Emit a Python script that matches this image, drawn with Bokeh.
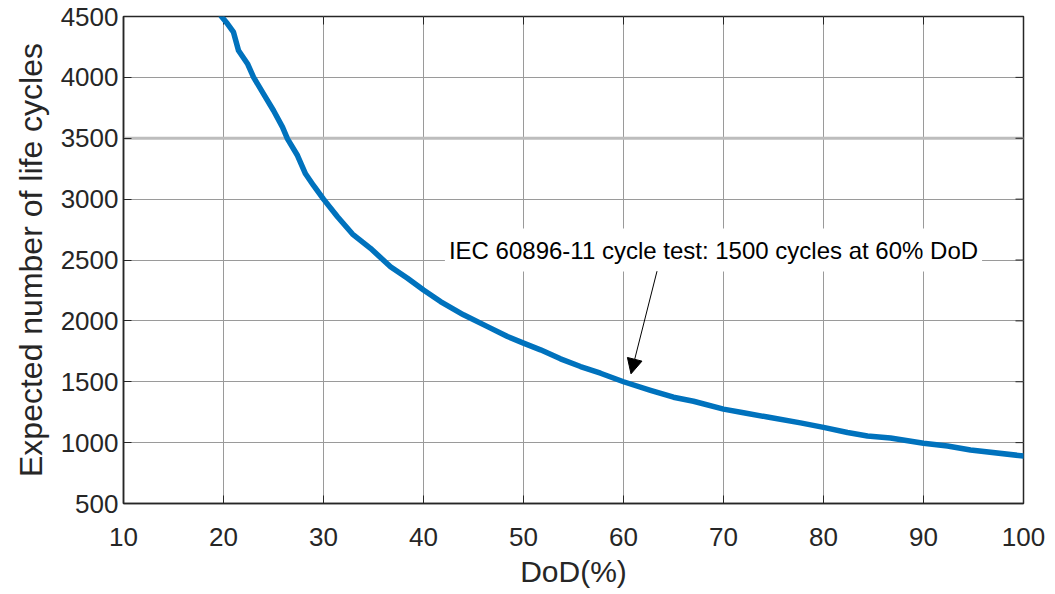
import math
from bokeh.plotting import figure
from bokeh.models import (FixedTicker, Span, Label, Arrow, NormalHead,
                          ColumnDataSource, Range1d)
from bokeh.embed import file_html
from bokeh.resources import INLINE

# Cycle life versus depth of discharge
dod = [19.8, 20.4, 21.0, 21.5, 22.4, 23.0, 24.0, 25.0, 25.9, 26.4, 27.4, 28.2, 29.0,
       30.0, 31.4, 32.9, 34.7, 36.7, 38.4, 40.0, 41.7, 44.0, 46.4, 48.4, 50.0, 51.7,
       53.7, 55.7, 57.7, 60.0, 62.7, 65.0, 67.0, 70.0, 72.0, 74.4, 77.7, 80.0, 82.4,
       84.4, 86.7, 90.0, 92.4, 94.7, 100.0]
cycles = [4500, 4440, 4371, 4221, 4112, 4002, 3865, 3728, 3591, 3495, 3358, 3208, 3112,
          3000, 2855, 2713, 2596, 2445, 2350, 2254, 2159, 2050, 1953, 1872, 1817, 1762,
          1688, 1625, 1570, 1500, 1430, 1373, 1340, 1275, 1245, 1210, 1162, 1125, 1083,
          1055, 1038, 995, 972, 940, 890]

x_ticks = [10, 20, 30, 40, 50, 60, 70, 80, 90, 100]
y_ticks = [500, 1000, 1500, 2000, 2500, 3000, 3500, 4000, 4500]

reference_level = 3500
note_text = "IEC 60896-11 cycle test: 1500 cycles at 60% DoD"
note_pos = (69.0, 2582)
arrow_from = (63.35, 2408)
arrow_to = (60.75, 1565)

FONT = "Liberation Sans"
DARK = "#262626"

p = figure(width=1055, height=594, output_backend="svg", toolbar_location=None,
           x_range=Range1d(x_ticks[0], x_ticks[-1]),
           y_range=Range1d(y_ticks[0], y_ticks[-1]),
           min_border_left=123, min_border_right=32, min_border_top=16,
           min_border_bottom=91)
p.outline_line_color = DARK
p.outline_line_width = 1.5
p.background_fill_color = "white"
p.border_fill_color = "white"

p.xaxis.ticker = FixedTicker(ticks=x_ticks)
p.yaxis.ticker = FixedTicker(ticks=y_ticks)
p.xgrid.ticker = FixedTicker(ticks=x_ticks)
p.ygrid.ticker = FixedTicker(ticks=y_ticks)
for g in (p.xgrid, p.ygrid):
    g.grid_line_color = "#9a9a9a"
    g.grid_line_width = 1

p.xaxis.axis_label = "DoD(%)"
p.yaxis.axis_label = "Expected number of life cycles"

for ax in (p.xaxis, p.yaxis):
    ax.axis_label_text_font = FONT
    ax.axis_label_text_font_style = "normal"
    ax.axis_label_text_color = DARK
    ax.major_label_text_font = FONT
    ax.major_label_text_font_size = "26px"
    ax.major_label_text_color = DARK
    ax.axis_line_color = DARK
    ax.axis_line_width = 1.5
    ax.major_tick_line_color = DARK
    ax.major_tick_in = 8
    ax.major_tick_out = 0
    ax.minor_tick_line_color = None

p.xaxis.axis_label_text_font_size = "30px"
p.yaxis.axis_label_text_font_size = "32px"
p.xaxis.major_label_standoff = 24
p.xaxis.axis_label_standoff = 6
p.yaxis.major_label_standoff = 5
p.yaxis.axis_label_standoff = 9

# Inward ticks along the top and right edges of the box
p.ray(x=x_ticks, y=[y_ticks[-1]] * len(x_ticks), length=8, length_units="screen",
      angle=-math.pi / 2, line_color=DARK, line_width=1)
p.ray(x=[x_ticks[-1]] * len(y_ticks), y=y_ticks, length=8, length_units="screen",
      angle=math.pi, line_color=DARK, line_width=1)

# Reference level line
p.add_layout(Span(location=reference_level, dimension="width", line_color="#bdbdbd",
                  line_width=3, level="underlay"))

src = ColumnDataSource(data=dict(x=dod, y=cycles))
p.line("x", "y", source=src, line_color="#0072BD", line_width=5.5,
       line_join="round", line_cap="round")

p.add_layout(Label(x=note_pos[0], y=note_pos[1], text=note_text,
                   text_font=FONT, text_font_size="24px", text_color="black",
                   text_align="center", text_baseline="middle",
                   background_fill_color="white", padding=(4, 8)))

p.add_layout(Arrow(x_start=arrow_from[0], y_start=arrow_from[1],
                   x_end=arrow_to[0], y_end=arrow_to[1], line_width=1,
                   line_color="black",
                   end=NormalHead(size=15, fill_color="black", line_color="black",
                                  line_width=1)))

open("out.html", "w").write(file_html(p, INLINE))
